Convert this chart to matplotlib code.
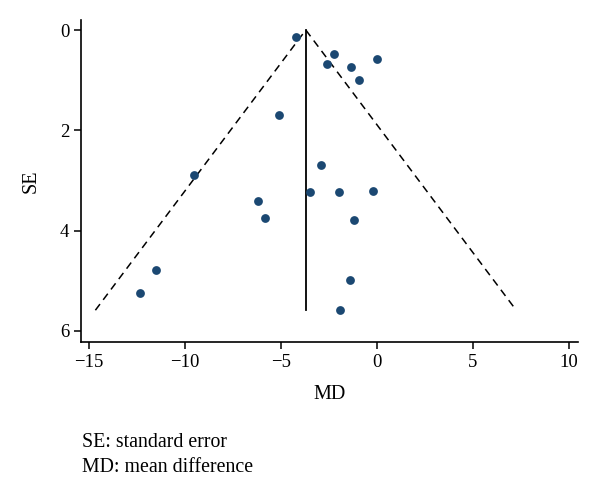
import numpy as np
import matplotlib
matplotlib.use("Agg")
import matplotlib.pyplot as plt

# study estimates
md = [-4.21, -2.23, 0.00, -2.61, -1.38, -0.92, -5.08, -2.91, -9.51, -3.51,
      -2.00, -0.21, -6.21, -5.81, -1.22, -11.51, -1.40, -12.33, -1.91]
se = [0.14, 0.48, 0.575, 0.68, 0.73, 1.005, 1.70, 2.70, 2.90, 3.23,
      3.23, 3.21, 3.42, 3.75, 3.80, 4.78, 4.98, 5.25, 5.59]
pooled_md = -3.71
x_ticks = [-15, -10, -5, 0, 5, 10]
y_ticks = [0, 2, 4, 6]
notes = ["SE: standard error", "MD: mean difference"]

plt.rcParams['font.family'] = ['Liberation Serif', 'DejaVu Serif']

fig = plt.figure(figsize=(6.0, 4.97), dpi=100)
ax = fig.add_axes([0.1355, 0.3113, 0.828, 0.6485])

# funnel: pooled estimate +/- 1.96*SE down to the largest SE
se_max = max(se)
ax.plot([pooled_md - 1.96 * se_max, pooled_md, pooled_md + 1.96 * se_max],
        [se_max, 0, se_max], color='black', linestyle=(0, (5, 3.5)), linewidth=1.1)
ax.plot([pooled_md, pooled_md], [0, se_max], color='black', linewidth=1.3)

ax.scatter(md, se, s=40, color='#1b4872', zorder=3, linewidths=0)

ax.set_xlim(-15.4, 10.47)
ax.set_ylim(6.23, -0.2)
ax.set_xticks(x_ticks)
ax.set_yticks(y_ticks)
ax.spines['top'].set_visible(False)
ax.spines['right'].set_visible(False)
ax.spines['left'].set_linewidth(1.2)
ax.spines['bottom'].set_linewidth(1.2)
ax.tick_params(direction='out', length=5, width=1.1, labelsize=13.5)
ax.set_xlabel('MD', fontsize=14.5, labelpad=10)
ax.set_ylabel('SE', fontsize=14.5, labelpad=14)

fig.text(0.136, 0.10, notes[0], fontsize=14.3)
fig.text(0.136, 0.05, notes[1], fontsize=14.3)

fig.savefig('out.png', dpi=100)
